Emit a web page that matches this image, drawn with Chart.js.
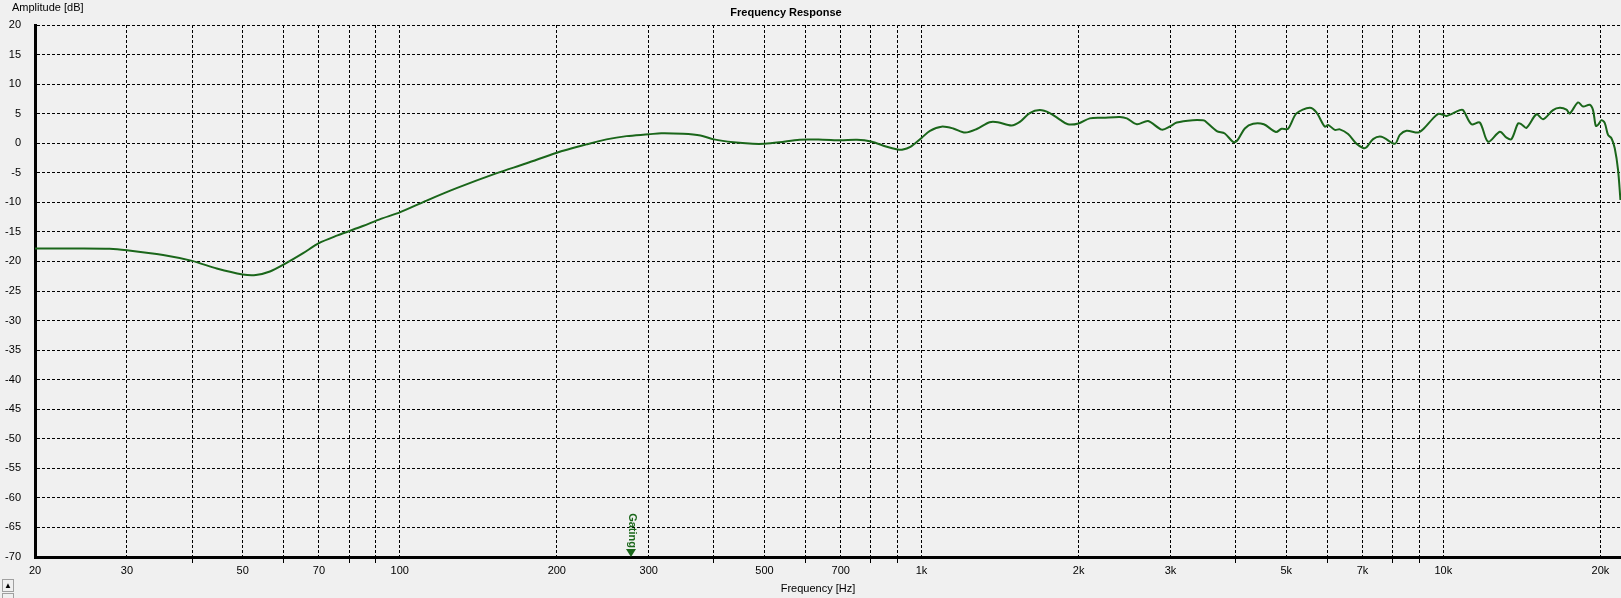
<!DOCTYPE html>
<html>
<head>
<meta charset="utf-8">
<title>Frequency Response</title>
<script src="https://cdn.jsdelivr.net/npm/chart.js@4.4.1/dist/chart.umd.min.js"></script>
<style>
  html, body { margin: 0; padding: 0; background: #f0f0f0; overflow: hidden; }
  #wrap { width: 1621px; height: 598px; }
</style>
</head>
<body>
<div id="wrap"><canvas id="fr" width="1621" height="598"></canvas></div>
<script>
const FREQ_HZ = [
  20, 24, 27.8, 30, 35.2, 40, 44.6, 50, 53, 56.4, 60, 65.3, 70, 76, 85, 92,
  100, 112.6, 128.5, 153, 175, 200, 228, 249, 272, 300, 317, 349, 377,
  400, 436, 475, 500, 534, 584, 647, 700, 752, 800, 858, 900, 917, 952,
  1000, 1038, 1092, 1150, 1212, 1276, 1350, 1400, 1487, 1543, 1612, 1685, 1761, 1841, 1907,
  2000, 2101, 2226, 2399, 2474, 2586, 2718, 2886,
  3000, 3084, 3310, 3460, 3490, 3680, 3812, 3958,
  4030, 4164, 4320, 4528, 4776, 4898,
  5040, 5230, 5546, 5712, 5926, 6014, 6194, 6332, 6568, 6816,
  7018, 7124, 7334, 7612, 8072, 8252, 8500, 8946, 9144, 9556, 9770,
  10000, 10140, 10754, 10910, 11322, 11744, 12182, 12830, 13214, 13508, 13906, 14116, 14430,
  15084, 15524, 16226, 16712, 17216, 17468, 18120, 18526, 19080, 19358, 19590, 19790,
  20088, 20380, 20684, 20996, 21304, 21616, 21846
];
const LEVEL_DB = [
  -17.8, -17.8, -17.85, -18.1, -18.9, -19.9, -21.2, -22.2, -22.3, -21.7, -20.5, -18.6, -16.9, -15.6, -14.0, -12.8,
  -11.7, -9.7, -7.6, -5.1, -3.4, -1.6, -0.2, 0.65, 1.2, 1.5, 1.7, 1.6, 1.3,
  0.65, 0.15, -0.1, -0.1, 0.15, 0.6, 0.6, 0.5, 0.6, 0.3, -0.6, -1.05, -1.1, -0.6,
  0.9, 2.1, 2.8, 2.5, 1.8, 2.4, 3.55, 3.55, 3.0, 3.6, 5.1, 5.6, 5.1, 4.0, 3.2,
  3.35, 4.2, 4.3, 4.45, 4.2, 3.2, 3.75, 2.3,
  2.9, 3.5, 3.9, 3.9, 3.8, 2.05, 1.65, 0.2,
  0.5, 2.5, 3.3, 3.2, 1.9, 2.45,
  2.45, 5.05, 6.0, 5.2, 2.8, 3.1, 2.25, 2.35, 1.55, -0.1,
  -0.8, -0.7, 0.7, 1.1, -0.1, 1.4, 2.1, 1.8, 2.35, 4.2, 4.95,
  4.8, 4.6, 5.6, 5.6, 3.2, 3.5, 0.25, 1.95, 0.95, 0.7, 3.35, 3.2, 2.6,
  4.9, 4.05, 5.6, 6.0, 5.7, 5.05, 6.9, 6.2, 6.5, 5.6, 2.95, 3.1,
  3.9, 3.45, 1.4, 0.85, -0.85, -4.5, -9.6
];

// Axis ticks
const X_TICKS = [
  20, 30, 40, 50, 60, 70, 80, 90,
  100, 200, 300, 400, 500, 600, 700, 800, 900,
  1000, 2000, 3000, 4000, 5000, 6000, 7000, 8000, 9000,
  10000, 20000
];
const X_TICK_LABELS = [
  '20', '30', '', '50', '', '70', '', '',
  '100', '200', '300', '', '500', '', '700', '', '',
  '1k', '2k', '3k', '', '5k', '', '7k', '', '',
  '10k', '20k'
];
const X_MIN = 20;
const X_MAX = 21900;
const Y_MIN = -70;
const Y_MAX = 20;
const Y_STEP = 5;
const GATING_HZ = 277;

const LINE_COLOR = '#1a661a';
const FONT = '"Liberation Sans", Arial, sans-serif';

// Texts and the gating marker drawn over the plot
const overlay = {
  id: 'overlay',
  afterDraw(chart) {
    const ctx = chart.ctx;
    const area = chart.chartArea;
    ctx.save();
    ctx.fillStyle = '#000';
    ctx.textBaseline = 'middle';
    ctx.font = '11px ' + FONT;
    ctx.textAlign = 'left';
    ctx.fillText('Amplitude [dB]', 12, 8);
    ctx.textAlign = 'center';
    ctx.fillText('Frequency [Hz]', 818, 589);
    ctx.font = 'bold 11px ' + FONT;
    ctx.fillText('Frequency Response', 786, 13);

    // gating marker
    const gx = Math.round(chart.scales.x.getPixelForValue(GATING_HZ));
    ctx.fillStyle = LINE_COLOR;
    ctx.beginPath();
    ctx.moveTo(gx - 5, area.bottom - 8);
    ctx.lineTo(gx + 5, area.bottom - 8);
    ctx.lineTo(gx, area.bottom);
    ctx.closePath();
    ctx.fill();
    ctx.save();
    ctx.translate(gx + 1, area.bottom - 9);
    ctx.rotate(Math.PI / 2);
    ctx.textAlign = 'right';
    ctx.textBaseline = 'middle';
    ctx.font = 'bold 11px ' + FONT;
    ctx.fillText('Gating', 0, 0);
    ctx.restore();

    // little spin button at bottom left
    ctx.strokeStyle = '#a0a0a0';
    ctx.lineWidth = 1;
    ctx.strokeRect(2.5, 579.5, 11, 12);
    ctx.strokeRect(2.5, 593.5, 11, 12);
    ctx.fillStyle = '#000';
    ctx.font = '8px ' + FONT;
    ctx.textAlign = 'center';
    ctx.fillText('\u25B2', 8, 586);
    ctx.restore();
  }
};

new Chart(document.getElementById('fr'), {
  type: 'line',
  data: {
    datasets: [{
      data: FREQ_HZ.map((f, i) => ({ x: f, y: LEVEL_DB[i] })),
      borderColor: LINE_COLOR,
      borderWidth: 2,
      pointRadius: 0,
      tension: 0.3,
      fill: false
    }]
  },
  options: {
    responsive: false,
    animation: false,
    devicePixelRatio: 1,
    layout: { padding: { top: 25, right: 0, left: 0, bottom: 0 } },
    plugins: {
      legend: { display: false },
      tooltip: { enabled: false }
    },
    scales: {
      x: {
        type: 'logarithmic',
        min: X_MIN,
        max: X_MAX,
        afterBuildTicks: (s) => { s.ticks = X_TICKS.map(v => ({ value: v })); },
        afterFit: (s) => { s.height = 41; },
        grid: {
          color: '#000',
          lineWidth: 1,
          drawTicks: true,
          tickLength: 6,
          tickColor: (c) => X_TICK_LABELS[c.index] ? 'rgba(0,0,0,0)' : '#000'
        },
        border: { display: true, color: '#000', width: 3, dash: [3, 2] },
        ticks: {
          autoSkip: false,
          maxRotation: 0,
          padding: 1,
          color: '#000',
          font: { family: FONT, size: 11 },
          callback: (v) => X_TICK_LABELS[X_TICKS.indexOf(v)] ?? ''
        }
      },
      y: {
        type: 'linear',
        min: Y_MIN,
        max: Y_MAX,
        afterFit: (s) => { s.width = 35; },
        grid: { color: '#000', lineWidth: 1, drawTicks: false },
        border: { display: true, color: '#000', width: 3, dash: [3, 2] },
        ticks: {
          stepSize: Y_STEP,
          padding: 14,
          color: '#000',
          font: { family: FONT, size: 11 }
        }
      }
    }
  },
  plugins: [overlay]
});
</script>
</body>
</html>
